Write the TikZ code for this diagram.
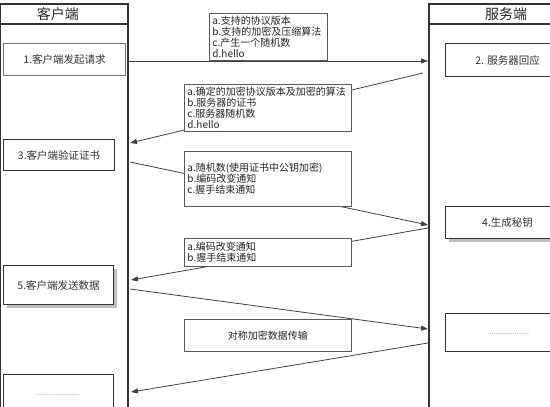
\documentclass[tikz,border=0pt]{standalone}
\usepackage{fontspec}
\setmainfont{Noto Sans CJK SC}
\usetikzlibrary{arrows.meta}
\begin{document}
\begin{tikzpicture}[x=1pt,y=-1pt,
  lane/.style={draw=black!80, line width=1.3pt},
  stepbox/.style={draw=black!80, line width=1.2pt, fill=white, anchor=north west,
     font=\fontsize{10.5}{12}\selectfont, text=black!80, inner sep=0pt},
  shadowed/.style={preaction={fill=black!25, transform canvas={xshift=3pt,yshift=-3pt}}},
  labelbox/.style={draw=black!65, line width=0.9pt, fill=white, anchor=north west,
     font=\fontsize{10}{11}\selectfont, text=black!85, align=left, inner xsep=3pt, inner ysep=1pt},
  msg/.style={draw=black!75, line width=0.8pt},
  arr/.style={msg, -{Triangle[length=7pt,width=5pt]}},
  dots/.style={text=black!55, font=\fontsize{7}{8}\selectfont}
]
\useasboundingbox (0,0) rectangle (550,407);
\clip (0,0) rectangle (550,407);
% lanes
\draw[lane] (0.6,4) rectangle (128,420);
\draw[lane] (0.6,24) -- (128,24);
\node[font=\fontsize{14}{16}\selectfont, text=black!85] (hc) at (58,14) {客户端};
\draw[lane] (429,4) rectangle (570,420);
\draw[lane] (429,24) -- (570,24);
\node[font=\fontsize{14}{16}\selectfont, text=black!85] (hs) at (506,14) {服务端};
% client boxes
\node[stepbox, draw=black!55, minimum width=122pt, minimum height=32pt] (b1) at (3,43) {1.客户端发起请求};
\node[stepbox, minimum width=111pt, minimum height=31pt] (b3) at (3,139) {3.客户端验证证书};
\node[stepbox, shadowed, minimum width=110pt, minimum height=39pt] (b5) at (3,265) {5.客户端发送数据};
\node[stepbox, minimum width=110pt, minimum height=46pt] (b6) at (3,374) {};
\node[dots] (d6) at (58,395) {......................};
% server boxes
\node[stepbox, minimum width=124pt, minimum height=33pt] (b2) at (445,43) {2. 服务器回应};
\node[stepbox, shadowed, minimum width=124pt, minimum height=32pt] (b4) at (445,206) {4.生成秘钥};
\node[stepbox, minimum width=124pt, minimum height=38pt] (b7) at (445,313) {};
\node[dots] (d7) at (509,334) {......................};
% connector ends
\coordinate (c1) at (128,61);   \coordinate (s1) at (428,61);
\coordinate (s2) at (423,73);   \coordinate (c2) at (130,143);
\coordinate (c3) at (130,162);  \coordinate (s3) at (428,225);
\coordinate (s4) at (428,228);  \coordinate (c4) at (131,280);
\coordinate (c5) at (130,289);  \coordinate (s5) at (428,329);
\coordinate (s6) at (428,343);  \coordinate (c6) at (131,392);
\draw[arr] (c1) -- (s1);
\draw[arr] (s2) -- (c2);
\draw[arr] (c3) -- (s3);
\draw[arr] (s4) -- (c4);
\draw[arr] (c5) -- (s5);
\draw[arr] (s6) -- (c6);
% labels
\node[labelbox, minimum width=118pt, minimum height=47pt, text width=112pt] (la) at (209,13)
 {a.支持的协议版本\\b.支持的加密及压缩算法\\c.产生一个随机数\\d.hello};
\node[labelbox, minimum width=167pt, minimum height=47pt, text width=161pt] (lb) at (184,84)
 {a.确定的加密协议版本及加密的算法\\b.服务器的证书\\c.服务器随机数\\d.hello};
\node[labelbox, minimum width=167pt, minimum height=55pt, text width=161pt] (lc) at (184,151)
 {a.随机数(使用证书中公钥加密)\\b.编码改变通知\\c.握手结束通知};
\node[labelbox, minimum width=167pt, minimum height=28pt, text width=161pt] (ld) at (184,238)
 {a.编码改变通知\\b.握手结束通知};
\node[labelbox, minimum width=167pt, minimum height=32pt, align=center, text width=161pt] (le) at (184,319)
 {对称加密数据传输};
\end{tikzpicture}
\end{document}
